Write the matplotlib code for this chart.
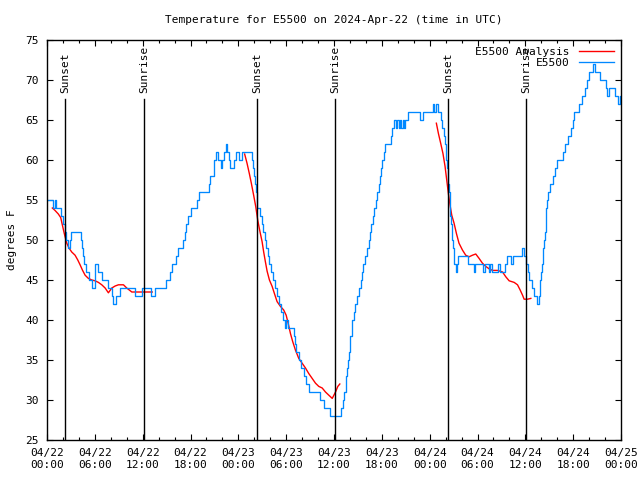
import pandas as pd
import matplotlib
matplotlib.use("Agg")
from matplotlib import pyplot as plt
import matplotlib.dates as mdates
import matplotlib.transforms as mtransforms

# observed temperature (hours after 2024-04-22 00:00 UTC, degrees F)
obs_hours = [0.0, 0.8, 0.95, 1.1, 1.8, 2.05, 2.2, 2.35, 2.6, 2.85, 3.05, 4.25, 4.35, 4.5, 4.7, 4.9,
             5.3, 5.65, 6.05, 6.4, 6.9, 7.7, 8.1, 8.3, 8.65, 9.2, 11.05, 11.9, 13.05, 13.6, 14.95,
             15.4, 15.65, 16.2, 16.45, 17.0, 17.35, 17.45, 17.7, 18.0, 18.8, 19.1, 20.35, 20.5,
             21.0, 21.15, 21.4, 21.85, 22.0, 22.25, 22.45, 22.6, 22.8, 23.0, 23.4, 23.65, 24.1,
             24.45, 25.75, 25.9, 26.0, 26.1, 26.2, 26.3, 26.4, 26.75, 26.95, 27.15, 27.3, 27.5,
             27.7, 27.9, 28.1, 28.3, 28.65, 28.8, 29.05, 29.35, 29.6, 29.85, 30.0, 30.2, 30.95,
             31.1, 31.25, 31.6, 31.9, 32.2, 32.55, 32.85, 34.2, 34.7, 35.55, 36.9, 37.15, 37.3,
             37.45, 37.55, 37.65, 37.75, 37.85, 37.95, 38.05, 38.2, 38.3, 38.45, 38.65, 38.9,
             39.1, 39.35, 39.5, 39.7, 39.9, 40.15, 40.35, 40.5, 40.7, 40.9, 41.05, 41.25, 41.4,
             41.6, 41.75, 41.9, 42.05, 42.25, 42.45, 43.1, 43.3, 43.5, 43.8, 43.9, 44.1, 44.25,
             44.45, 44.6, 44.8, 44.95, 45.3, 46.85, 47.15, 48.4, 48.6, 48.85, 49.1, 49.4, 49.6,
             49.8, 49.9, 50.0, 50.1, 50.2, 50.3, 50.35, 50.45, 50.5, 50.55, 50.6, 50.7, 50.75,
             50.8, 50.9, 51.0, 51.1, 51.25, 51.4, 51.55, 52.75, 53.5, 53.7, 54.75, 54.95, 55.45,
             55.6, 55.8, 56.6, 56.8, 57.45, 57.75, 58.2, 58.5, 59.55, 59.8, 60.05, 60.3, 60.5,
             60.8, 61.1, 61.45, 61.75, 61.8, 61.9, 62.0, 62.1, 62.2, 62.25, 62.35, 62.45, 62.55,
             62.6, 62.65, 62.7, 62.85, 63.05, 63.45, 63.7, 63.95, 64.7, 65.0, 65.4, 65.7, 65.95,
             66.15, 66.75, 67.05, 67.5, 67.7, 67.95, 68.55, 68.8, 69.35, 70.1, 70.3, 70.5, 71.3,
             71.65, 71.85, 72.0]
obs_temp = [55, 54, 55, 54, 53, 52, 51, 50, 49, 50, 51, 50, 49, 48, 47, 46,
            45, 44, 47, 46, 45, 44, 43, 42, 43, 44, 43, 44, 43, 44, 45,
            46, 47, 48, 49, 50, 51, 52, 53, 54, 55, 56, 57, 58,
            60, 61, 60, 59, 60, 61, 62, 61, 60, 59, 60, 61, 60,
            61, 60, 59, 58, 57, 56, 55, 54, 53, 52, 51, 50, 49,
            48, 47, 46, 45, 44, 43, 42, 41, 40, 39, 40, 39, 38,
            37, 36, 35, 34, 33, 32, 31, 30, 29, 28, 29, 30, 31,
            32, 33, 34, 35, 36, 37, 38, 39, 40, 41, 42, 43,
            44, 45, 46, 47, 48, 49, 50, 51, 52, 53, 54, 55, 56,
            57, 58, 59, 60, 61, 62, 63, 64, 65, 64, 65, 64, 65,
            64, 65, 64, 65, 66, 65, 66, 67, 66, 67, 66, 65, 64,
            63, 62, 61, 60, 59, 58, 57, 56, 55, 54, 53, 52, 51,
            50, 49, 48, 47, 46, 47, 48, 47, 46, 47, 46, 47, 46,
            47, 46, 47, 46, 47, 48, 47, 48, 49, 48, 47, 46, 45,
            44, 43, 42, 43, 44, 45, 46, 47, 48, 49, 50, 51, 52,
            53, 54, 55, 56, 57, 58, 59, 60, 61, 62, 63, 64, 65,
            66, 67, 68, 69, 70, 71, 72, 71, 70, 69, 68, 69, 68,
            67, 68, 68]

# analysis runs, one per night
ana1_hours = [0.67, 1.0, 1.42, 1.72, 1.92, 2.17, 2.48, 2.76, 3.1, 3.52, 3.86, 4.15, 4.44, 4.78,
              5.19, 5.62, 6.03, 6.45, 6.87, 7.29, 7.7, 8.13, 8.55, 8.96, 9.59, 10.0, 10.64,
              11.27, 12.3, 13.2]
ana1_temp = [54.0, 53.7, 53.25, 52.8, 51.9, 50.8, 49.6, 49.0, 48.5, 48.1, 47.5, 46.9, 46.25, 45.6,
             45.2, 45.0, 44.9, 44.7, 44.4, 44.0, 43.4, 44.0, 44.25, 44.4, 44.4, 44.0, 43.5,
             43.5, 43.5, 43.5]
ana2_hours = [24.79, 25.09, 25.38, 25.63, 25.92, 26.18, 26.43, 26.68, 26.98, 27.18, 27.39, 27.61,
              27.9, 28.24, 28.53, 28.86, 29.28, 29.69, 30.0, 30.25, 30.54, 30.82, 31.16, 31.58,
              32.0, 32.42, 32.84, 33.26, 33.68, 34.09, 34.52, 34.93, 35.35, 35.78, 36.19, 36.48,
              36.73]
ana2_temp = [60.75, 59.6, 58.3, 57.1, 55.6, 54.2, 52.5, 51.2, 49.8, 48.5, 47.3, 46.1,
             45.0, 44.2, 43.3, 42.3, 41.7, 41.25, 40.6, 39.6, 38.3, 37.3, 36.25, 35.2,
             34.6, 34.0, 33.3, 32.7, 32.1, 31.7, 31.5, 31.0, 30.6, 30.2, 31.0, 31.7,
             32.0]
ana3_hours = [48.84, 49.1, 49.38, 49.67, 49.93, 50.14, 50.35, 50.55, 50.77, 51.06, 51.36, 51.68,
              52.11, 52.52, 52.94, 53.37, 53.78, 54.2, 54.62, 55.04, 55.45, 55.88, 56.51, 57.14,
              57.55, 57.97, 58.6, 59.02, 59.35, 59.65, 59.85, 60.28, 60.69]
ana3_temp = [64.6, 63.3, 62.1, 60.8, 59.2, 57.5, 55.8, 54.4, 53.1, 52.1, 50.8, 49.6,
             48.75, 48.1, 47.9, 48.1, 48.25, 47.7, 47.1, 46.7, 46.4, 46.2, 46.2, 46.0,
             45.4, 44.9, 44.7, 44.4, 43.75, 43.1, 42.6, 42.6, 42.7]

event_times = ["2024-04-22 02:18", "2024-04-22 12:10", "2024-04-23 02:19",
               "2024-04-23 12:08", "2024-04-24 02:20", "2024-04-24 12:07"]
event_names = ["Sunset", "Sunrise", "Sunset", "Sunrise", "Sunset", "Sunrise"]

start = pd.Timestamp("2024-04-22 00:00")


def to_time(hours):
    return start + pd.to_timedelta(hours, unit="h")


plt.rcParams["font.family"] = "DejaVu Sans Mono"
plt.rcParams["font.size"] = 8

fig = plt.figure(figsize=(6.4, 4.8), dpi=100)
ax = fig.add_axes([47 / 640, 40 / 480, 574 / 640, 400 / 480])

for ana_h, ana_t in [(ana1_hours, ana1_temp), (ana2_hours, ana2_temp), (ana3_hours, ana3_temp)]:
    ax.plot(to_time(ana_h), ana_t, color="#ff0000", lw=1.0,
            label="E5500 Analysis" if ana_h is ana1_hours else None)
ax.plot(to_time(obs_hours), obs_temp, color="#0088ff", lw=0.95, drawstyle="steps-post", label="E5500")

trans = mtransforms.blended_transform_factory(ax.transData, ax.transAxes)
for t, name in zip(event_times, event_names):
    ts = pd.Timestamp(t)
    ax.axvline(ts, ymin=0, ymax=0.8525, color="black", lw=1.0)
    ax.text(ts, 0.868, name, rotation=90, ha="center", va="bottom", transform=trans)

ax.set_xlim(start, start + pd.Timedelta(hours=72))
ax.set_ylim(25, 75)
ax.set_yticks(range(25, 80, 5))
ax.xaxis.set_major_locator(mdates.HourLocator(byhour=[0, 6, 12, 18]))
ax.xaxis.set_minor_locator(mdates.HourLocator(interval=2))
ax.xaxis.set_major_formatter(mdates.DateFormatter("%m/%d\n%H:%M"))
ax.tick_params(which="both", direction="in", top=True, right=True, color="black")
ax.tick_params(which="major", length=4.5, width=0.8, pad=6)
ax.tick_params(which="minor", length=2.5, width=0.8)
for spine in ax.spines.values():
    spine.set_linewidth(1.0)

ax.set_title("Temperature for E5500 on 2024-Apr-22 (time in UTC)", fontsize=8, pad=12)
ax.set_ylabel("degrees F", labelpad=6)

ax.legend(loc="upper right", frameon=False, markerfirst=False, handlelength=3.2,
          borderaxespad=0.2, labelspacing=0.1, fontsize=8)

fig.savefig("out.png", dpi=100)
